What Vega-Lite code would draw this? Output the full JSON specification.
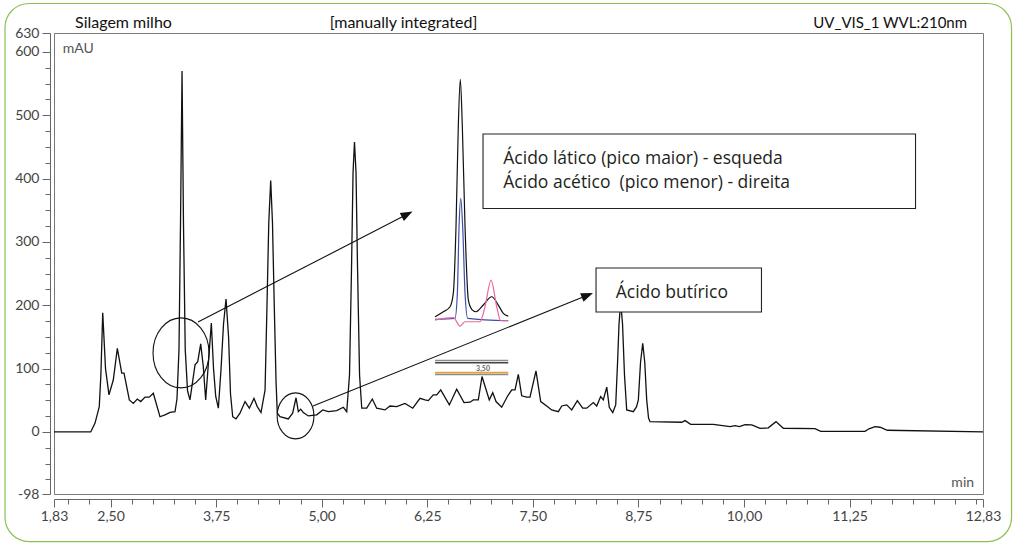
{
  "$schema": "https://vega.github.io/schema/vega-lite/v6.json",
  "width": 929,
  "height": 461,
  "autosize": {"type": "none"},
  "padding": {"left": 54, "top": 33, "right": 31, "bottom": 49},
  "background": "white",
  "config": {"view": {"stroke": "#7a7a7a", "strokeWidth": 1}, "font": "Lato"},
  "resolve": {"scale": {"color": "independent"}},
  "datasets": {
    "frame": [{"t": 1.25, "v": 676.6, "t2": 13.168, "v2": -173.1}],
    "trace": [
      {"t": 1.83, "v": 0}, {"t": 2.265, "v": 0}, {"t": 2.316, "v": 14}, {"t": 2.366, "v": 40}, {"t": 2.385, "v": 90},
      {"t": 2.407, "v": 188}, {"t": 2.44, "v": 100}, {"t": 2.481, "v": 58.5}, {"t": 2.532, "v": 82}, {"t": 2.58, "v": 132},
      {"t": 2.632, "v": 93}, {"t": 2.659, "v": 93}, {"t": 2.722, "v": 50.6}, {"t": 2.769, "v": 45}, {"t": 2.816, "v": 52},
      {"t": 2.857, "v": 48}, {"t": 2.908, "v": 55}, {"t": 2.958, "v": 55}, {"t": 3.006, "v": 61}, {"t": 3.085, "v": 24},
      {"t": 3.144, "v": 27}, {"t": 3.204, "v": 31}, {"t": 3.263, "v": 32}, {"t": 3.286, "v": 52}, {"t": 3.31, "v": 130},
      {"t": 3.328, "v": 330}, {"t": 3.346, "v": 570}, {"t": 3.363, "v": 330}, {"t": 3.384, "v": 130}, {"t": 3.411, "v": 65},
      {"t": 3.44, "v": 50.6}, {"t": 3.5, "v": 106}, {"t": 3.532, "v": 111}, {"t": 3.567, "v": 139}, {"t": 3.598, "v": 103},
      {"t": 3.626, "v": 50.6}, {"t": 3.659, "v": 110}, {"t": 3.693, "v": 172}, {"t": 3.719, "v": 100}, {"t": 3.745, "v": 56},
      {"t": 3.776, "v": 37.5}, {"t": 3.808, "v": 100}, {"t": 3.837, "v": 170}, {"t": 3.867, "v": 210}, {"t": 3.897, "v": 150},
      {"t": 3.92, "v": 60}, {"t": 3.946, "v": 24}, {"t": 3.985, "v": 20.6}, {"t": 4.032, "v": 29.6}, {"t": 4.092, "v": 48},
      {"t": 4.143, "v": 37.5}, {"t": 4.198, "v": 53}, {"t": 4.237, "v": 40}, {"t": 4.281, "v": 30.6}, {"t": 4.329, "v": 66},
      {"t": 4.352, "v": 200}, {"t": 4.373, "v": 330}, {"t": 4.396, "v": 397}, {"t": 4.417, "v": 330}, {"t": 4.438, "v": 200},
      {"t": 4.459, "v": 80}, {"t": 4.474, "v": 29.6}, {"t": 4.506, "v": 24}, {"t": 4.604, "v": 20.6}, {"t": 4.656, "v": 29.6},
      {"t": 4.696, "v": 54}, {"t": 4.723, "v": 32}, {"t": 4.751, "v": 36}, {"t": 4.782, "v": 30.6}, {"t": 4.841, "v": 25.3},
      {"t": 4.941, "v": 27}, {"t": 5.012, "v": 34.8}, {"t": 5.078, "v": 32}, {"t": 5.178, "v": 33.7}, {"t": 5.256, "v": 39},
      {"t": 5.296, "v": 32}, {"t": 5.329, "v": 90}, {"t": 5.353, "v": 260}, {"t": 5.371, "v": 410}, {"t": 5.388, "v": 458},
      {"t": 5.406, "v": 410}, {"t": 5.424, "v": 260}, {"t": 5.448, "v": 90}, {"t": 5.474, "v": 37.5}, {"t": 5.533, "v": 37.5},
      {"t": 5.599, "v": 52}, {"t": 5.651, "v": 37.5}, {"t": 5.749, "v": 34.8}, {"t": 5.809, "v": 41}, {"t": 5.888, "v": 40},
      {"t": 5.986, "v": 45}, {"t": 6.078, "v": 37.5}, {"t": 6.164, "v": 53}, {"t": 6.223, "v": 50.6}, {"t": 6.262, "v": 49.5},
      {"t": 6.321, "v": 58.5}, {"t": 6.362, "v": 58.5}, {"t": 6.409, "v": 66.5}, {"t": 6.511, "v": 42.7}, {"t": 6.598, "v": 67.5},
      {"t": 6.685, "v": 46.4}, {"t": 6.756, "v": 47}, {"t": 6.795, "v": 50.6}, {"t": 6.854, "v": 50.6}, {"t": 6.898, "v": 87.5},
      {"t": 6.984, "v": 50.6}, {"t": 7.025, "v": 62}, {"t": 7.064, "v": 48}, {"t": 7.131, "v": 39}, {"t": 7.198, "v": 56},
      {"t": 7.25, "v": 66.5}, {"t": 7.289, "v": 66.5}, {"t": 7.328, "v": 91}, {"t": 7.368, "v": 57}, {"t": 7.427, "v": 55},
      {"t": 7.466, "v": 55}, {"t": 7.537, "v": 96.5}, {"t": 7.593, "v": 48}, {"t": 7.664, "v": 41}, {"t": 7.723, "v": 34.8},
      {"t": 7.802, "v": 32}, {"t": 7.842, "v": 41}, {"t": 7.901, "v": 42.7}, {"t": 7.96, "v": 34.8}, {"t": 8.027, "v": 49.5},
      {"t": 8.09, "v": 37.5}, {"t": 8.138, "v": 37.5}, {"t": 8.216, "v": 46.4}, {"t": 8.256, "v": 41}, {"t": 8.303, "v": 56},
      {"t": 8.334, "v": 50.6}, {"t": 8.375, "v": 70.7}, {"t": 8.405, "v": 39}, {"t": 8.446, "v": 30.6}, {"t": 8.481, "v": 42.7},
      {"t": 8.503, "v": 110}, {"t": 8.52, "v": 170}, {"t": 8.54, "v": 205}, {"t": 8.562, "v": 170}, {"t": 8.585, "v": 90},
      {"t": 8.611, "v": 34.8}, {"t": 8.69, "v": 32}, {"t": 8.728, "v": 40}, {"t": 8.749, "v": 50.6}, {"t": 8.775, "v": 110},
      {"t": 8.801, "v": 140}, {"t": 8.825, "v": 110}, {"t": 8.848, "v": 50.6}, {"t": 8.87, "v": 22}, {"t": 8.887, "v": 16.3},
      {"t": 9.263, "v": 15.3}, {"t": 9.302, "v": 17.9}, {"t": 9.369, "v": 12}, {"t": 9.637, "v": 12}, {"t": 9.835, "v": 8.4},
      {"t": 9.894, "v": 10}, {"t": 9.945, "v": 8.4}, {"t": 10.013, "v": 11.6}, {"t": 10.092, "v": 11.3}, {"t": 10.19, "v": 5.5},
      {"t": 10.288, "v": 6.5}, {"t": 10.379, "v": 16.3}, {"t": 10.466, "v": 5.8}, {"t": 10.841, "v": 5.2}, {"t": 10.909, "v": 1},
      {"t": 11.433, "v": 1}, {"t": 11.48, "v": 5}, {"t": 11.552, "v": 8.4}, {"t": 11.611, "v": 7.4}, {"t": 11.697, "v": 2.7},
      {"t": 12.83, "v": 0}
    ],
    "inset": [
      {"series": "total", "t": 6.342, "v": 181.9}, {"series": "total", "t": 6.44, "v": 189.8}, {"series": "total", "t": 6.519, "v": 197.7},
      {"series": "total", "t": 6.558, "v": 218.9}, {"series": "total", "t": 6.59, "v": 324.1}, {"series": "total", "t": 6.617, "v": 482},
      {"series": "total", "t": 6.641, "v": 556.9}, {"series": "total", "t": 6.665, "v": 482}, {"series": "total", "t": 6.697, "v": 324.1},
      {"series": "total", "t": 6.736, "v": 208.4}, {"series": "total", "t": 6.776, "v": 193.7}, {"series": "total", "t": 6.827, "v": 189.8},
      {"series": "total", "t": 6.913, "v": 200.4}, {"series": "total", "t": 7.013, "v": 213.5}, {"series": "total", "t": 7.091, "v": 200.4},
      {"series": "total", "t": 7.15, "v": 187.3}, {"series": "total", "t": 7.209, "v": 183},
      {"series": "lático", "t": 6.342, "v": 177.8}, {"series": "lático", "t": 6.578, "v": 179.4}, {"series": "lático", "t": 6.606, "v": 218.9},
      {"series": "lático", "t": 6.626, "v": 324.1}, {"series": "lático", "t": 6.646, "v": 368.9}, {"series": "lático", "t": 6.669, "v": 324.1},
      {"series": "lático", "t": 6.697, "v": 218.9}, {"series": "lático", "t": 6.729, "v": 179.4}, {"series": "lático", "t": 7.209, "v": 175.6},
      {"series": "acético", "t": 6.342, "v": 176.7}, {"series": "acético", "t": 6.559, "v": 180.4}, {"series": "acético", "t": 6.638, "v": 167.2},
      {"series": "acético", "t": 6.697, "v": 174}, {"series": "acético", "t": 6.874, "v": 174}, {"series": "acético", "t": 6.933, "v": 197.7},
      {"series": "acético", "t": 7.005, "v": 239.9}, {"series": "acético", "t": 7.072, "v": 197.7}, {"series": "acético", "t": 7.119, "v": 175.6},
      {"series": "acético", "t": 7.209, "v": 175.6}
    ],
    "scalebar": [
      {"kind": "escala", "t": 6.342, "t2": 7.209, "v": 112.8},
      {"kind": "base", "t": 6.342, "t2": 7.209, "v": 109.3},
      {"kind": "destaque", "t": 6.342, "t2": 7.209, "v": 93.6},
      {"kind": "escala", "t": 6.342, "t2": 7.209, "v": 90.7}
    ],
    "scalelabel": [{"text": "3,50", "t": 6.91, "v": 99.9}],
    "ellipses": [
      {"name": "lático/acético", "t": 3.334, "v": 124.8},
      {"name": "butírico", "t": 4.69, "v": 25.3}
    ],
    "arrows": [
      {"name": "lático/acético", "t": 3.535, "v": 173.6, "t2": 6.012, "v2": 343.6},
      {"name": "butírico", "t": 4.897, "v": 40.9, "t2": 8.146, "v2": 215.9}
    ],
    "boxes": [
      {"t": 6.91, "v": 470.5, "t2": 12.031, "v2": 352.9},
      {"t": 8.248, "v": 258.9, "t2": 10.207, "v2": 189.4}
    ],
    "notes": [
      {"text": "Ácido lático (pico maior) - esqueda", "t": 7.15, "v": 422.6},
      {"text": "Ácido acético\u00a0 (pico menor) - direita", "t": 7.15, "v": 384.7},
      {"text": "Ácido butírico", "t": 8.481, "v": 211.0}
    ],
    "header": [
      {"text": "Silagem milho", "t": 2.079, "v": 637.9},
      {"text": "[manually integrated]", "t": 5.969, "v": 637.9},
      {"text": "UV_VIS_1 WVL:210nm", "t": 12.641, "v": 637.9}
    ],
    "units": [
      {"text": "mAU", "t": 1.933, "v": 598.4},
      {"text": "min", "t": 12.724, "v": -87.0}
    ]
  },
  "encoding": {
    "x": {
      "field": "t",
      "type": "quantitative",
      "scale": {"domain": [1.83, 12.83], "nice": false, "zero": false},
      "axis": {
        "title": null,
        "grid": false,
        "values": [1.83, 2, 2.25, 2.5, 2.75, 3, 3.25, 3.5, 3.75, 4, 4.25, 4.5, 4.75, 5, 5.25, 5.5, 5.75, 6, 6.25, 6.5, 6.75, 7, 7.25, 7.5, 7.75, 8, 8.25, 8.5, 8.75, 9, 9.25, 9.5, 9.75, 10, 10.25, 10.5, 10.75, 11, 11.25, 11.5, 11.75, 12, 12.25, 12.5, 12.75, 12.83],
        "labelExpr": "indexof([1.83,2.5,3.75,5,6.25,7.5,8.75,10,11.25,12.83], datum.value) >= 0 ? replace(format(datum.value, '.2f'), '.', ',') : ''",
        "offset": 5,
        "tickSize": {"condition": {"test": "indexof([1.83,2.5,3.75,5,6.25,7.5,8.75,10,11.25,12.83], datum.value) >= 0", "value": 8}, "value": 5},
        "domainColor": "#666",
        "tickColor": "#666",
        "labelColor": "#444",
        "labelFont": "Lato",
        "labelFontSize": 14,
        "labelPadding": 2,
        "labelOverlap": false,
        "labelFlush": false,
        "labelBound": false
      }
    },
    "y": {
      "field": "v",
      "type": "quantitative",
      "scale": {"domain": [-98, 630], "nice": false, "zero": false},
      "axis": {
        "title": null,
        "grid": false,
        "values": [-98, -75, -50, -25, 0, 25, 50, 75, 100, 125, 150, 175, 200, 225, 250, 275, 300, 325, 350, 375, 400, 425, 450, 475, 500, 525, 550, 575, 600, 630],
        "labelExpr": "indexof([-98,0,100,200,300,400,500,600,630], datum.value) >= 0 ? datum.value : ''",
        "offset": 4,
        "tickSize": {"condition": {"test": "indexof([-98,0,100,200,300,400,500,600,630], datum.value) >= 0", "value": 8}, "value": 5},
        "domainColor": "#666",
        "tickColor": "#666",
        "labelColor": "#444",
        "labelFont": "Lato",
        "labelFontSize": 14,
        "labelPadding": 3,
        "labelOverlap": false,
        "labelFlush": false,
        "labelBound": false
      }
    }
  },
  "layer": [
    {
      "data": {"name": "frame"},
      "mark": {"type": "rect", "fill": null, "stroke": "#8cc152", "strokeWidth": 1.2, "cornerRadius": 24},
      "encoding": {"x2": {"field": "t2"}, "y2": {"field": "v2"}}
    },
    {
      "data": {"name": "trace"},
      "mark": {"type": "line", "color": "#111", "strokeWidth": 1.3}
    },
    {
      "data": {"name": "inset"},
      "mark": {"type": "line", "strokeWidth": 1.2, "interpolate": "monotone"},
      "encoding": {
        "color": {"field": "series", "type": "nominal", "scale": {"domain": ["acético", "lático", "total"], "range": ["#e8699f", "#3c4ea6", "#111"]}, "legend": null},
        "order": {"field": "t", "type": "quantitative"}
      }
    },
    {
      "data": {"name": "scalebar"},
      "mark": {"type": "rule", "strokeWidth": 1.6},
      "encoding": {
        "x2": {"field": "t2"},
        "stroke": {"field": "kind", "type": "nominal", "scale": {"domain": ["escala", "base", "destaque"], "range": ["#8c8c8c", "#444", "#e8a13a"]}, "legend": null}
      }
    },
    {
      "data": {"name": "scalelabel"},
      "mark": {"type": "text", "fontSize": 7, "fontWeight": "bold", "color": "#666", "align": "center", "baseline": "middle"},
      "encoding": {"text": {"field": "text"}}
    },
    {
      "data": {"name": "ellipses"},
      "transform": [{"filter": "datum.name === 'lático/acético'"}],
      "mark": {"type": "point", "shape": "M -0.8 0 A 0.8 1 0 1 1 0.8 0 A 0.8 1 0 1 1 -0.8 0 Z", "size": 4900, "filled": false, "stroke": "#111", "strokeWidth": 1.1, "opacity": 1}
    },
    {
      "data": {"name": "ellipses"},
      "transform": [{"filter": "datum.name === 'butírico'"}],
      "mark": {"type": "point", "shape": "M -0.8 0 A 0.8 1 0 1 1 0.8 0 A 0.8 1 0 1 1 -0.8 0 Z", "size": 2116, "filled": false, "stroke": "#111", "strokeWidth": 1.1, "opacity": 1}
    },
    {
      "data": {"name": "arrows"},
      "mark": {"type": "rule", "color": "#111", "strokeWidth": 1.1},
      "encoding": {"x2": {"field": "t2"}, "y2": {"field": "v2"}}
    },
    {
      "data": {"name": "arrows"},
      "transform": [{"filter": "datum.name === 'lático/acético'"}],
      "mark": {"type": "point", "shape": "M 0 -1 L 0.75 1 L -0.75 1 Z", "size": 144, "filled": true, "color": "#111", "opacity": 1, "angle": 62.7},
      "encoding": {"x": {"field": "t2", "type": "quantitative"}, "y": {"field": "v2", "type": "quantitative"}}
    },
    {
      "data": {"name": "arrows"},
      "transform": [{"filter": "datum.name === 'butírico'"}],
      "mark": {"type": "point", "shape": "M 0 -1 L 0.75 1 L -0.75 1 Z", "size": 144, "filled": true, "color": "#111", "opacity": 1, "angle": 68.0},
      "encoding": {"x": {"field": "t2", "type": "quantitative"}, "y": {"field": "v2", "type": "quantitative"}}
    },
    {
      "data": {"name": "boxes"},
      "mark": {"type": "rect", "fill": "white", "stroke": "#222", "strokeWidth": 1.1},
      "encoding": {"x2": {"field": "t2"}, "y2": {"field": "v2"}}
    },
    {
      "data": {"name": "notes"},
      "mark": {"type": "text", "font": "Open Sans", "fontSize": 17.5, "color": "#231f20", "align": "left", "baseline": "alphabetic"},
      "encoding": {"text": {"field": "text"}}
    },
    {
      "data": {"name": "header"},
      "transform": [{"filter": "datum.text === 'Silagem milho'"}],
      "mark": {"type": "text", "font": "Lato", "fontSize": 16, "color": "#111", "align": "left", "baseline": "alphabetic"},
      "encoding": {"text": {"field": "text"}}
    },
    {
      "data": {"name": "header"},
      "transform": [{"filter": "datum.text === '[manually integrated]'"}],
      "mark": {"type": "text", "font": "Lato", "fontSize": 16, "color": "#111", "align": "center", "baseline": "alphabetic"},
      "encoding": {"text": {"field": "text"}}
    },
    {
      "data": {"name": "header"},
      "transform": [{"filter": "datum.text === 'UV_VIS_1 WVL:210nm'"}],
      "mark": {"type": "text", "font": "Lato", "fontSize": 15, "color": "#111", "align": "right", "baseline": "alphabetic"},
      "encoding": {"text": {"field": "text"}}
    },
    {
      "data": {"name": "units"},
      "transform": [{"filter": "datum.text === 'mAU'"}],
      "mark": {"type": "text", "font": "Lato", "fontSize": 14, "color": "#555", "align": "left", "baseline": "alphabetic"},
      "encoding": {"text": {"field": "text"}}
    },
    {
      "data": {"name": "units"},
      "transform": [{"filter": "datum.text === 'min'"}],
      "mark": {"type": "text", "font": "Lato", "fontSize": 14, "color": "#555", "align": "right", "baseline": "alphabetic"},
      "encoding": {"text": {"field": "text"}}
    }
  ]
}
